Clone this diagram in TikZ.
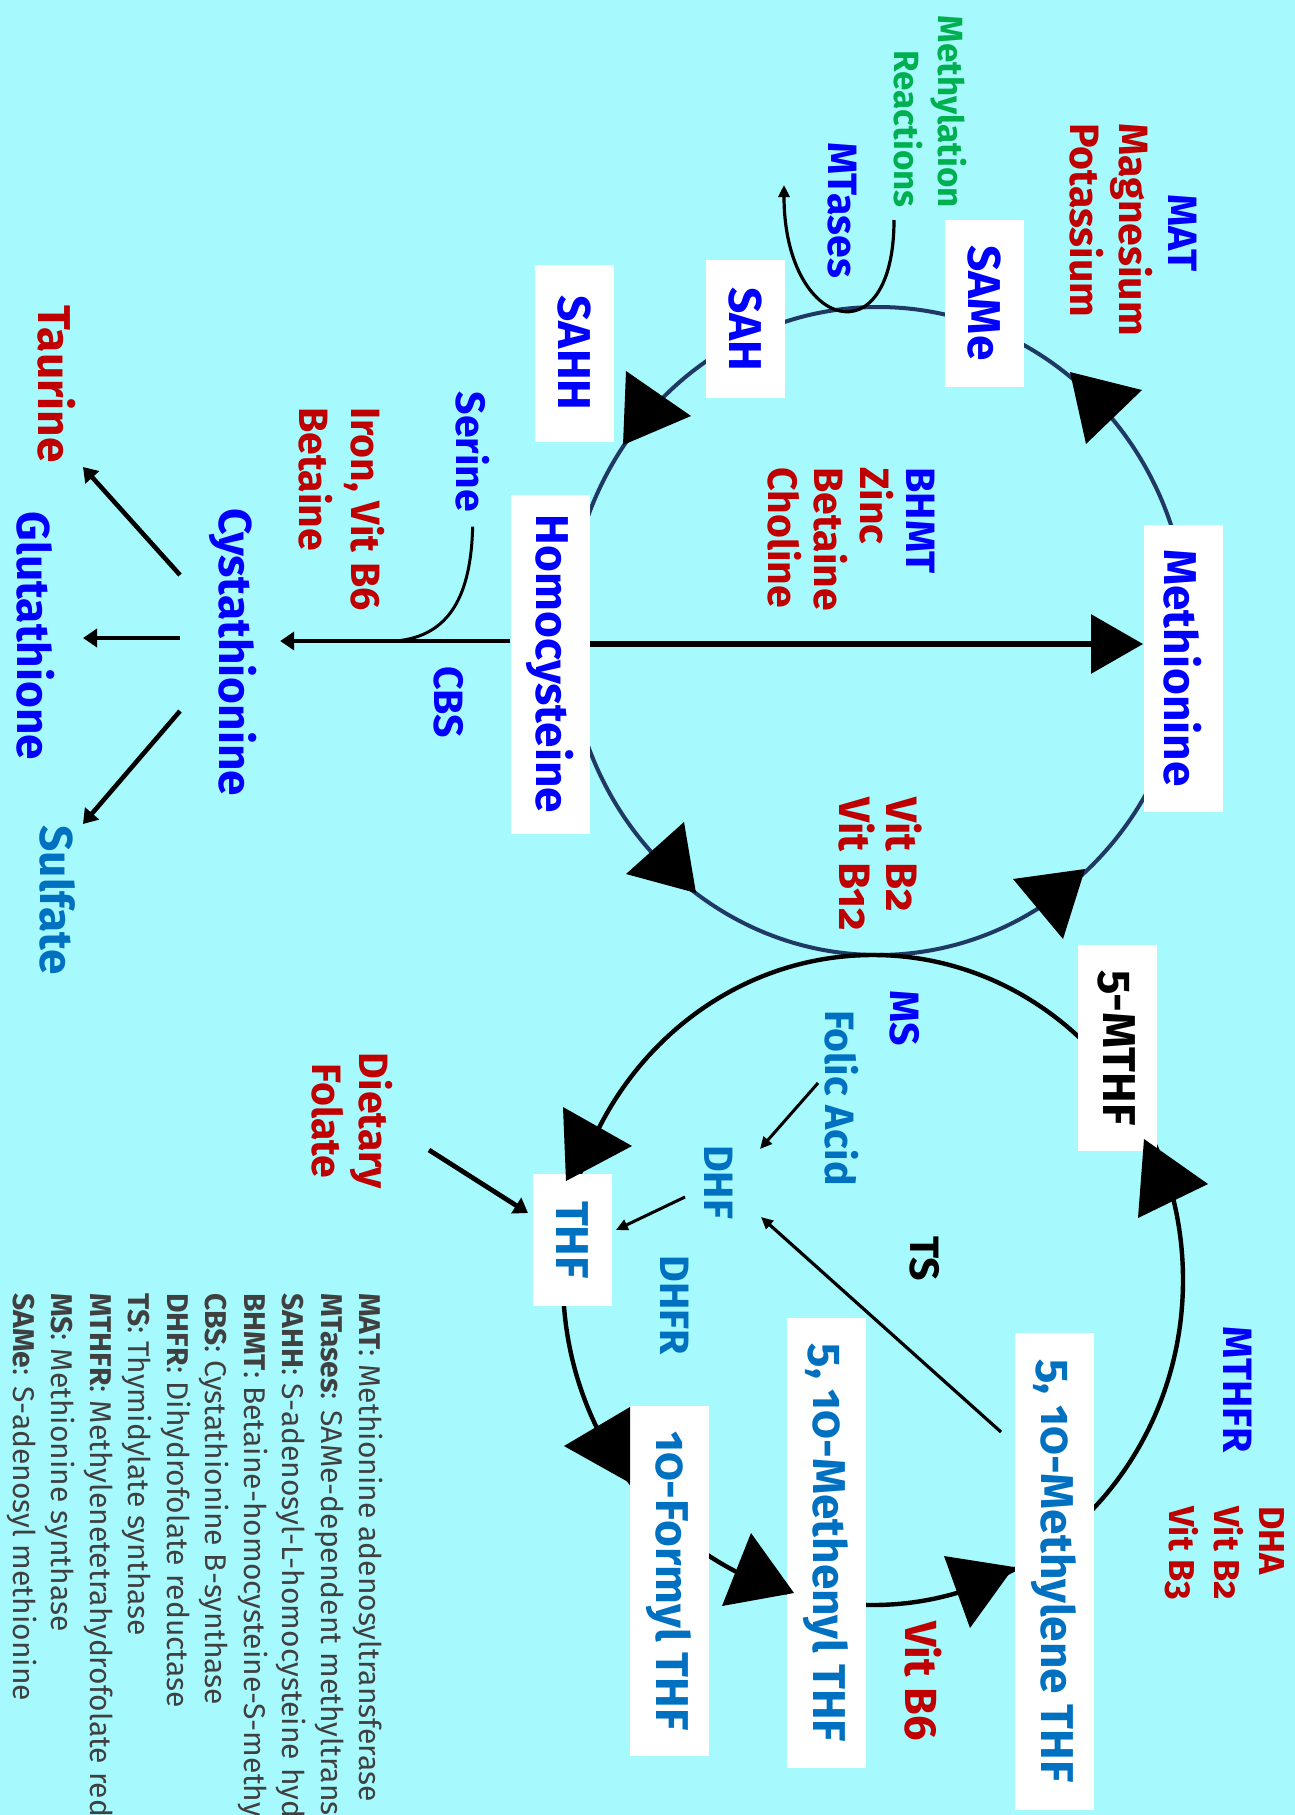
\documentclass[tikz,border=0pt]{standalone}
\usepackage{fontspec}
\setmainfont{Fira Sans}[Numbers=OldStyle]
\usetikzlibrary{arrows.meta}

\definecolor{bgcyan}{RGB}{166,249,252}
\definecolor{ringnavy}{RGB}{31,56,100}
\definecolor{labred}{RGB}{192,0,0}
\definecolor{labblue}{RGB}{0,0,255}
\definecolor{midblue}{RGB}{0,112,192}
\definecolor{labgreen}{RGB}{0,176,80}
\definecolor{legendgray}{RGB}{64,64,64}

\newcommand{\bigfnt}{\bfseries\fontsize{23}{27}\selectfont}
\newcommand{\midfnt}{\bfseries\fontsize{20.5}{23.5}\selectfont}

\begin{document}
\begin{tikzpicture}[x=0.5pt,y=-0.5pt,
	every node/.append style={rotate=-90},
	box/.style={fill=white,inner sep=0pt,minimum height=39.5pt,font=\bigfnt},
	lbl/.style={inner sep=0pt,font=\midfnt},
	biglbl/.style={inner sep=0pt,font=\bigfnt},
	ring/.style={line width=2.2pt},
	mainarrow/.style={line width=3pt,-{Triangle[length=26pt,width=29pt]}},
	sidearrow/.style={line width=2.3pt,-{Triangle[length=7pt,width=9pt]}},
	thinarrow/.style={line width=1.5pt,-{Triangle[length=6pt,width=5.5pt]}}]
	
	\path[use as bounding box] (0,0) rectangle (1295,1815);
	\clip (0,0) rectangle (1295,1815);
	\fill[bgcyan] (0,0) rectangle (1295,1815);
	
	% the two cycles
	\coordinate (metcycle) at (878,631);
	\coordinate (folcycle) at (873,1280);
	\draw[ring,ringnavy,line width=2pt] (metcycle) ellipse [x radius=155pt, y radius=162pt];
	\draw[ring] (folcycle) ellipse [x radius=155pt, y radius=162.5pt];
	
	\node[box,text=labblue,minimum width=83.5pt] (same) at (984,303) {SAMe};
	\node[box,text=labblue,minimum width=69pt] (sah) at (745,329) {SAH};
	\node[box,text=labblue,minimum width=88.5pt] (sahh) at (574,353) {SAHH};
	\node[box,text=labblue,minimum width=143.5pt] (methio) at (1183,668) {Methionine};
	\node[box,text=labblue,minimum width=169.5pt] (homocys) at (550,664) {Homocysteine};
	
	\node[box,minimum width=103pt] (mthf) at (1117,1048) {5-MTHF};
	\node[box,text=midblue,minimum width=66pt] (thf) at (572,1240) {THF};
	\node[box,text=midblue,minimum width=238.5pt] (methylene) at (1054,1571) {5, 10-Methylene THF};
	\node[box,text=midblue,minimum width=225pt] (methenyl) at (826,1543) {5, 10-Methenyl THF};
	\node[box,text=midblue,minimum width=175pt] (formyl) at (669,1581) {10-Formyl THF};
	
	% enzymes and cofactors
	\node[lbl,text=labblue] (mat) at (1183,233) {MAT};
	\node[lbl,text=labred,align=left,anchor=west,font=\bfseries\fontsize{20.5}{24.5}\selectfont] (magpot) at (1111,123) {Magnesium\\Potassium};
	\node[lbl,text=labgreen,align=right,anchor=east,font=\bfseries\fontsize{17.5}{22}\selectfont] (methyl) at (930,208) {Methylation\\Reactions};
	\node[lbl,text=labblue] (mtases) at (842,210) {MTases};
	\node[lbl,text=labred,align=left,anchor=west,font=\bfseries\fontsize{20.5}{23}\selectfont] (bhmt) at (851,467) {{\color{labblue}BHMT}\\Zinc\\Betaine\\Choline};
	\node[lbl,text=labred,align=left,anchor=west,font=\bfseries\fontsize{22}{23.5}\selectfont] (vitb12) at (880,797) {Vit B2\\Vit B12};
	\node[lbl,text=labblue] (serine) at (473,452) {Serine};
	\node[lbl,text=labred,align=left,anchor=west,font=\bfseries\fontsize{20.5}{26}\selectfont] (iron) at (342,407) {Iron, Vit B6\\Betaine};
	\node[lbl,text=labblue] (cbs) at (449,702) {CBS};
	\node[biglbl,text=labblue] (cysta) at (233,652) {Cystathionine};
	\node[biglbl,text=labred] (taurine) at (57,384) {Taurine};
	\node[biglbl,text=labblue] (gluta) at (36,636) {Glutathione};
	\node[biglbl,text=midblue] (sulfate) at (58,900) {Sulfate};
	
	\node[lbl,text=labblue] (ms) at (905,1018) {MS};
	\node[lbl,text=midblue] (folic) at (842,1098) {Folic Acid};
	\node[lbl,text=midblue] (dhf) at (719,1182) {DHF};
	\node[lbl] (ts) at (925,1259) {TS};
	\node[lbl,text=labred,align=center] (dietary) at (352,1121) {Dietary\\Folate};
	\node[lbl,text=midblue] (dhfr) at (675,1305) {DHFR};
	\node[lbl,text=labblue] (mthfr) at (1238,1390) {MTHFR};
	\node[lbl,text=labred,align=left,anchor=west,font=\bfseries\fontsize{18}{22.5}\selectfont] (dha) at (1225,1506) {DHA\\Vit B2\\Vit B3};
	\node[lbl,text=labred,font=\bfseries\fontsize{22.5}{26}\selectfont] (vitb6) at (923,1681) {Vit B6};
	
	% key
	\node[inner sep=0pt,anchor=west,align=left,text=legendgray,font=\fontsize{15}{19.25}\selectfont] (key) at (195,1293) {%
		\textbf{MAT}: Methionine adenosyltransferase\\
		\textbf{MTases}: SAMe-dependent methyltransferases\\
		\textbf{SAHH}: S-adenosyl-L-homocysteine hydrolase\\
		\textbf{BHMT}: Betaine-homocysteine-S-methyltransferase\\
		\textbf{CBS}: Cystathionine B-synthase\\
		\textbf{DHFR}: Dihydrofolate reductase\\
		\textbf{TS}: Thymidylate synthase\\
		\textbf{MTHFR}: Methylenetetrahydrofolate reductase\\
		\textbf{MS}: Methionine synthase\\
		\textbf{SAMe}: S-adenosyl methionine};
	
	\draw[mainarrow] ([yshift=10pt]homocys.north) -- ([yshift=12pt]methio.south);
	\draw[sidearrow] ([yshift=11.5pt]homocys.south) -- ([xshift=11.5pt,yshift=5.5pt]cysta.north);
	
	\coordinate (cbsjoin) at (396,641);
	\draw[line width=1.5pt,shorten <=7pt] (serine.east) .. controls (471,595) and (450,636) .. (cbsjoin);
	
	\coordinate (mtstart) at (894,220);
	\coordinate (mtend) at (784,185);
	\draw[thinarrow,line width=1.6pt] (mtstart) .. controls (894,360) and (784,330) .. (mtend);
	
	\draw[sidearrow] ([xshift=-26.5pt,yshift=38.5pt]cysta.center) -- ([xshift=13pt,yshift=-41.5pt]taurine.center);
	\draw[sidearrow] ([xshift=-26.5pt,yshift=7pt]cysta.center) -- ([xshift=23.5pt,yshift=-1pt]gluta.center);
	\draw[sidearrow] ([xshift=-26.5pt,yshift=-29.5pt]cysta.center) -- ([xshift=12.5pt,yshift=38pt]sulfate.center);
	
	\draw[thinarrow] ([xshift=-12pt,yshift=7.5pt]folic.center) -- ([xshift=20.5pt,yshift=16.5pt]dhf.center);
	\draw[thinarrow] ([xshift=-17pt,yshift=-7.5pt]dhf.center) -- ([xshift=2pt,yshift=5pt]thf.north);
	\draw[sidearrow,line width=2.4pt] ([xshift=38.5pt,yshift=-14.5pt]dietary.center) -- ([xshift=-22pt,yshift=13.5pt]thf.center);
	\draw[thinarrow,line width=1.6pt] ([xshift=-26.5pt,yshift=69.5pt]methylene.center) -- ([xshift=21pt,yshift=-17.5pt]dhf.center);
	
	% cycle arrowheads
	\fill (1070,372) -- (1142,390) -- (1086,444) -- cycle;
	\fill (626,371) -- (691,416) -- (623,445) -- cycle;
	\fill (684,822) -- (696,893) -- (626,874) -- cycle;
	\fill (1013,879) -- (1085,869) -- (1063,939) -- cycle;
	\fill (1144,1139) -- (1208,1184) -- (1138,1218) -- cycle;
	\fill (563,1107) -- (632,1146) -- (566,1181) -- cycle;
	\fill (564,1446) -- (630,1407) -- (630,1483) -- cycle;
	\fill (751,1533) -- (794,1593) -- (722,1606) -- cycle;
	\fill (944,1556) -- (1014,1567) -- (970,1628) -- cycle;
	
\end{tikzpicture}
\end{document}
